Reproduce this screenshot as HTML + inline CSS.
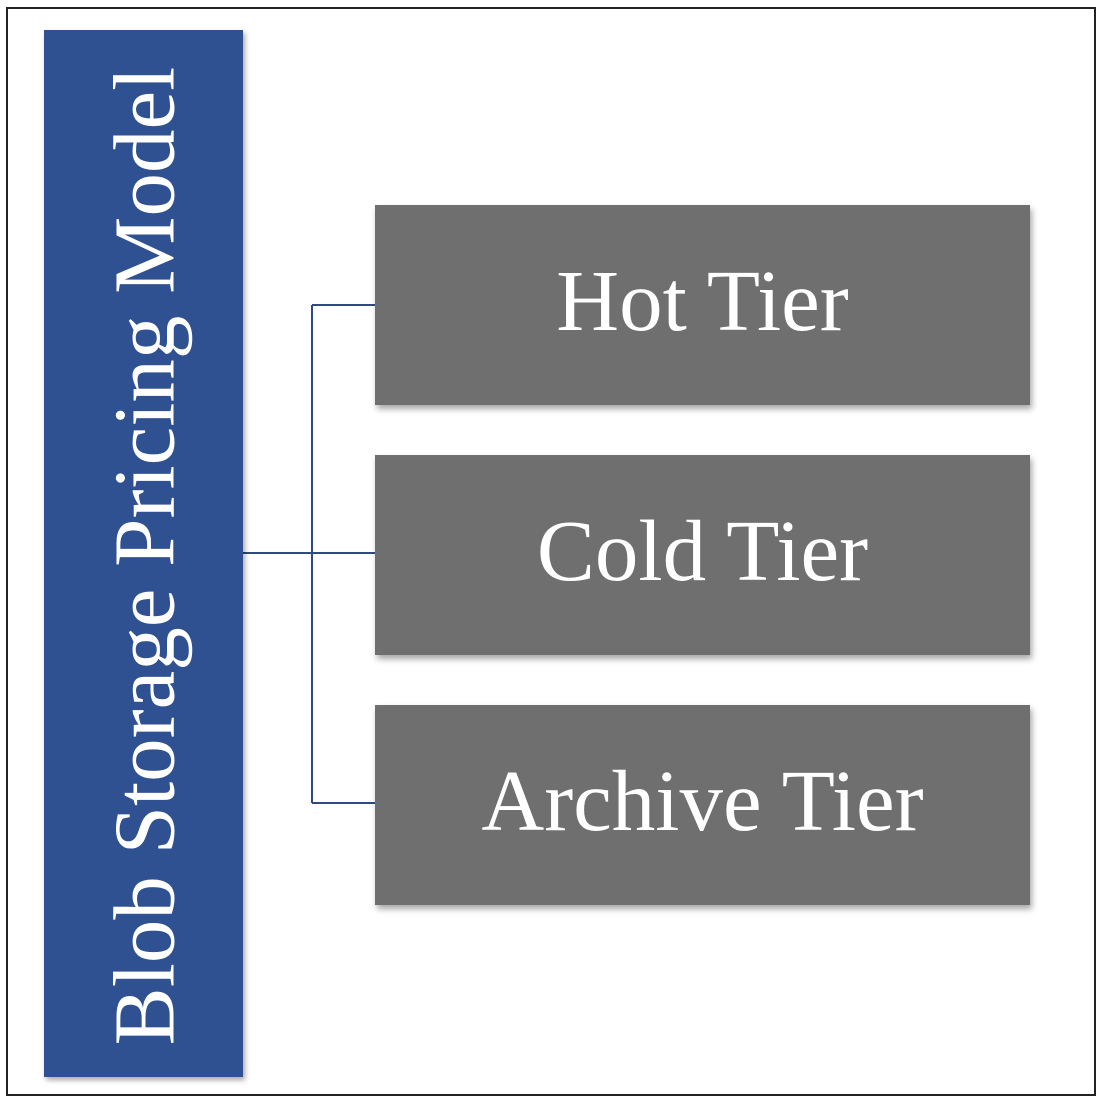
<!DOCTYPE html>
<html><head><style>
body{margin:0;width:1100px;height:1100px;background:#fff;position:relative;overflow:hidden;font-family:"Liberation Serif",serif}
.frame{position:absolute;left:6px;top:7px;width:1090px;height:1089px;border:2px solid #222;box-sizing:border-box}
.bar{position:absolute;left:44px;top:30px;width:199px;height:1047px;background:#2f5191;box-shadow:2px 3px 5px rgba(0,0,0,.35)}
.bar span{position:absolute;left:50%;top:50%;transform:translate(-50%,-50%) rotate(-90deg);white-space:nowrap;color:#fff;font-size:87px;margin-top:2px}
.box{position:absolute;left:375px;width:655px;height:200px;background:#6f6f6f;color:#fff;font-size:87px;display:flex;align-items:center;justify-content:center;box-shadow:2px 4px 6px rgba(0,0,0,.35);padding-bottom:10px;box-sizing:border-box}
svg{position:absolute;left:0;top:0}
</style></head><body>
<div class="frame"></div>
<svg width="1100" height="1100"><g stroke="#2e4a80" stroke-width="2" fill="none">
<path d="M243 553H375M312 305V803M312 305H375M312 803H375"/></g></svg>
<div class="bar"><span>Blob Storage Pricing Model</span></div>
<div class="box" style="top:205px">Hot Tier</div>
<div class="box" style="top:455px">Cold Tier</div>
<div class="box" style="top:705px">Archive Tier</div>
</body></html>
